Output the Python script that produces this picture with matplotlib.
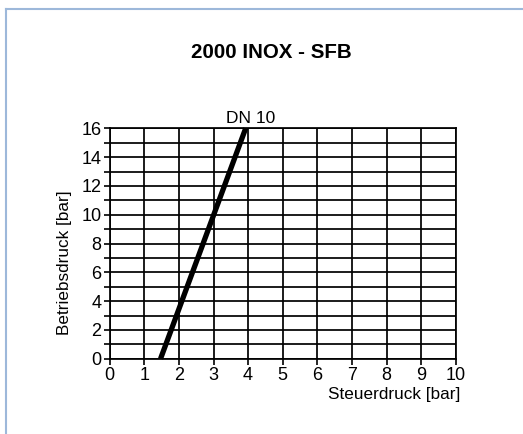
import matplotlib
matplotlib.use("Agg")
import matplotlib.pyplot as plt
from matplotlib.lines import Line2D
import numpy as np

plt.rcParams['font.family'] = ['Liberation Sans', 'DejaVu Sans']

# Data
steuerdruck = [1.47, 3.93]      # x values [bar]
betriebsdruck = [0, 16]         # y values [bar]
series_label = "DN 10"
title = "2000 INOX - SFB"
xlabel = "Steuerdruck [bar]"
ylabel = "Betriebsdruck [bar]"
xticks = list(range(0, 11))
yticks = list(range(0, 17, 2))

W, H = 523, 434
fig = plt.figure(figsize=(W / 100, H / 100), dpi=100)

# light blue frame (left and top edges)
fig.add_artist(Line2D([5.5 / W, 5.5 / W], [0, 1 - 8.5 / H], color='#9db8da', lw=1.5, transform=fig.transFigure))
fig.add_artist(Line2D([5.5 / W, 1], [1 - 8.5 / H, 1 - 8.5 / H], color='#9db8da', lw=1.5, transform=fig.transFigure))

left, right, top, bottom = 109.7, 455.7, 128.3, 358.7
ax = fig.add_axes([left / W, 1 - bottom / H, (right - left) / W, (bottom - top) / H])
ax.set_xlim(0, 10)
ax.set_ylim(0, 16)
ax.set_xticks(xticks)
ax.set_yticks(yticks)
ax.set_yticks(range(1, 16, 2), minor=True)
ax.tick_params(axis='both', which='major', direction='out', length=4, width=1.2, labelsize=13, pad=2, colors='black')
ax.tick_params(axis='y', which='minor', direction='out', length=4, width=1.2)
ax.grid(True, which='both', color='black', lw=1.25)
for s in ax.spines.values():
    s.set_linewidth(1.25)
ax.set_axisbelow(True)

ax.plot(steuerdruck, betriebsdruck, color='black', lw=3.8, solid_capstyle='butt', clip_on=False, zorder=5)
ax.annotate(series_label, xy=(steuerdruck[1], betriebsdruck[1]), xytext=(3.5, 2), textcoords='offset points',
            ha='center', va='bottom', fontsize=12.5, annotation_clip=False)

fig.text(271.5 / W, 1 - 52 / H, title, ha='center', va='center', fontsize=14.8, fontweight='bold')
fig.text(460 / W, 1 - 395 / H, xlabel, ha='right', va='center', fontsize=12.3)
fig.text(65 / W, 1 - 263 / H, ylabel, ha='center', va='center', rotation=90, fontsize=12.3)

fig.savefig('out.png', dpi=100)
